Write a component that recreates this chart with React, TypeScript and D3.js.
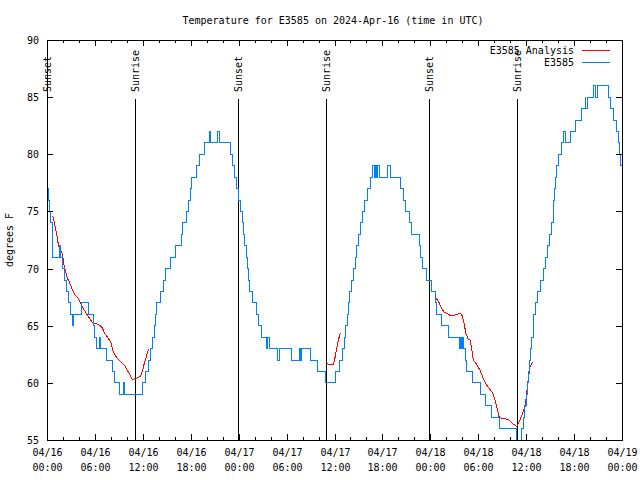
import React from "react";
import * as d3 from "d3";

// ---- Data (hours since 2024-04-16 00:00 UTC, temperature in °F) ----
const obsHours = [
  0.0, 0.16, 0.31, 0.5, 0.63, 0.69, 0.75, 1.54, 1.75, 1.97, 2.19, 2.38, 2.63, 2.88, 3.22, 3.32,
  4.35, 5.17, 5.8, 5.95, 6.14, 6.57, 6.7, 7.39, 8.23, 8.39, 9.14, 9.58, 9.7, 11.96, 12.33, 12.65,
  12.96, 13.21, 13.4, 13.56, 13.74, 14.24, 14.56, 14.81, 15.49, 16.03, 16.78, 16.99, 17.49, 17.69,
  17.91, 18.12, 18.75, 19.07, 19.66, 20.32, 20.53, 21.32, 21.54, 22.95, 23.25, 23.54, 23.73, 23.92,
  24.25, 24.42, 24.63, 24.79, 24.98, 25.08, 25.23, 25.33, 25.76, 26.26, 26.46, 26.8, 27.51, 27.67,
  27.8, 28.84, 29.09, 30.64, 31.56, 31.74, 31.93, 32.99, 33.82, 34.93, 36.07, 36.63, 37.01, 37.26,
  37.38, 37.57, 37.76, 37.94, 38.15, 38.36, 38.57, 38.78, 38.98, 39.26, 39.51, 39.76, 40.07, 40.45,
  40.79, 40.95, 41.08, 41.24, 41.33, 41.61, 42.61, 42.95, 44.29, 44.7, 44.95, 45.37, 45.64, 46.62,
  46.79, 47.04, 47.55, 48.17, 48.59, 48.8, 49.43, 50.25, 51.63, 51.76, 51.88, 52.01, 52.14, 52.41,
  52.56, 53.31, 54.31, 54.85, 55.6, 56.64, 58.79, 59.42, 59.64, 59.85, 60.04, 60.14, 60.27, 60.42,
  60.54, 60.69, 60.86, 60.98, 61.17, 61.48, 61.8, 62.15, 62.42, 62.67, 62.92, 63.17, 63.36, 63.46,
  63.57, 63.71, 63.86, 64.02, 64.43, 64.65, 64.92, 65.58, 66.12, 66.95, 67.37, 67.49, 67.66, 68.37,
  68.74, 68.99, 70.28, 70.62, 70.93, 71.25, 71.54, 71.66, 71.84, 72.0,
];
const obsTemps = [
  77, 76, 75, 74, 73, 72, 71, 72, 71, 70, 69, 68, 67, 66, 65, 66,
  67, 66, 65, 64, 63, 64, 63, 62, 61, 60, 59, 60, 59, 60, 61, 62,
  63, 64, 65, 66, 67, 68, 69, 70, 71, 72, 73, 74, 75, 76,
  77, 78, 79, 80, 81, 82, 81, 82, 81, 80, 79, 78, 77, 76,
  75, 74, 73, 72, 71, 70, 69, 68, 67, 66, 65, 64, 63, 64,
  63, 62, 63, 62, 63, 62, 63, 62, 61, 60, 61, 62, 63, 64,
  65, 66, 67, 68, 69, 70, 71, 72, 73, 74, 75, 76, 77, 78,
  79, 78, 79, 78, 79, 78, 79, 78, 77, 76, 75, 74, 73, 72,
  71, 70, 69, 68, 67, 66, 65, 64, 63, 64, 63, 64, 63, 62,
  61, 60, 59, 58, 57, 56, 55, 56, 57, 58, 59, 60, 61, 62,
  63, 64, 65, 66, 67, 68, 69, 70, 71, 72, 73, 74, 75, 76,
  77, 78, 79, 80, 81, 82, 81, 82, 83, 84, 85, 84, 85, 86,
  85, 86, 85, 84, 83, 82, 81, 80, 79, 79,
];

// Analysis series; null marks a gap between runs
const anaHours: (number | null)[] = [
  0.59, 0.79, 0.91, 1.09, 1.29, 1.42, 1.63, 1.84, 1.97, 2.13, 2.34, 2.54, 2.75, 2.97, 3.22, 3.51,
  3.92, 4.13, 4.55, 5.17, 5.6, 6.01, 6.42, 6.85, 7.26, 7.68, 8.01, 8.3, 8.73, 9.14, 9.77, 10.06,
  10.39, 10.68, 11.23, 11.73, 11.98, 12.18, 12.48, 12.68, 12.81,
  null,
  34.9, 35.22, 35.52, 35.85, 36.06, 36.28, 36.48, 36.69, 36.88,
  null,
  48.59, 48.87, 49.12, 49.42, 49.71, 50.05, 50.46, 50.88, 51.3, 51.72, 51.93, 52.22, 52.47, 52.76,
  52.97, 53.18, 53.38, 53.81, 54.22, 54.63, 55.06, 55.48, 55.81, 56.1, 56.31, 56.6, 56.94, 57.77,
  58.07, 58.39, 58.81, 59.23, 59.64, 59.85, 60.07, 60.27, 60.48, 60.77,
];
const anaTemps: (number | null)[] = [
  74.6, 74.5, 74.0, 73.4, 72.7, 72.1, 71.6, 71.5, 71.1, 70.3, 69.7, 69.15, 68.9, 68.5, 68.1, 67.7,
  67.4, 67.1, 66.5, 65.8, 65.35, 65.2, 65.1, 64.9, 64.3, 63.9, 63.5, 62.7, 62.2, 61.9, 61.5, 61.1,
  60.7, 60.3, 60.4, 60.6, 61.1, 61.7, 62.4, 62.9, 62.9,
  null,
  61.8, 61.65, 61.6, 61.6, 62.2, 63.0, 63.75, 64.3, 64.4,
  null,
  67.4, 67.3, 67.0, 66.5, 66.2, 66.1, 65.9, 65.85, 66.0, 66.05, 66.0, 65.2, 64.3, 63.8,
  63.75, 63.0, 62.0, 61.6, 61.1, 60.4, 59.8, 59.4, 59.1, 58.5, 57.9, 57.05, 56.9, 56.8,
  56.6, 56.4, 56.2, 56.75, 57.5, 57.9, 59.1, 60.4, 61.4, 61.8,
];

const sunHours = [0.0, 10.96, 23.95, 34.97, 47.87, 58.89];
const sunLabels = ["Sunset", "Sunrise", "Sunset", "Sunrise", "Sunset", "Sunrise"];

const xTickHours = [0, 6, 12, 18, 24, 30, 36, 42, 48, 54, 60, 66, 72];
const xTickDates = ["04/16", "04/16", "04/16", "04/16", "04/17", "04/17", "04/17", "04/17", "04/18", "04/18", "04/18", "04/18", "04/19"];
const xTickTimes = ["00:00", "06:00", "12:00", "18:00", "00:00", "06:00", "12:00", "18:00", "00:00", "06:00", "12:00", "18:00", "00:00"];
const yTicks = [55, 60, 65, 70, 75, 80, 85, 90];

const titleText = "Temperature for E3585 on 2024-Apr-16 (time in UTC)";
const yLabel = "degrees F";
const seriesNames = ["E3585 Analysis", "E3585"];

export default function App() {
  const W = 640, H = 480;
  const L = 47, R = 622, T = 40, B = 440;
  const x = d3.scaleLinear().domain([0, 72]).range([L, R]);
  const y = d3.scaleLinear().domain([55, 90]).range([B, T]);
  const font = "'DejaVu Sans Mono', monospace";
  const fs = 10;

  const obs = obsHours.map((h, i) => [h, obsTemps[i]] as [number, number]);
  const obsLine = d3
    .line<[number, number]>()
    .x((d) => x(d[0]))
    .y((d) => y(d[1]))
    .curve(d3.curveStepAfter)(obs);

  const ana = anaHours.map((h, i) => [h, anaTemps[i]] as [number | null, number | null]);
  const anaLine = d3
    .line<[number | null, number | null]>()
    .defined((d) => d[0] !== null && d[1] !== null)
    .x((d) => x(d[0] as number))
    .y((d) => y(d[1] as number))(ana);

  const minorX = d3.range(0, 73, 2).filter((h) => h % 6 !== 0);

  return (
    <svg
      width={W}
      height={H}
      style={{ position: "absolute", left: 0, top: 0, background: "#fff" }}
      fontFamily={font}
      fontSize={fs}
    >
      <rect x={0} y={0} width={W} height={H} fill="#fff" />
      <defs>
        <clipPath id="plotClip">
          <rect x={L} y={T} width={R - L + 1} height={B - T + 1} />
        </clipPath>
      </defs>

      {/* title */}
      <text x={333} y={24} textAnchor="middle" fill="#000">
        {titleText}
      </text>

      {/* y label */}
      <text transform={`translate(13,240) rotate(-90)`} textAnchor="middle" fill="#000">
        {yLabel}
      </text>

      {/* sunrise / sunset markers */}
      {sunHours.map((h, i) => {
        const sx = Math.round(x(h)) + 0.5;
        return (
          <g key={"sun" + i}>
            <line x1={sx} x2={sx} y1={T + 59} y2={B} stroke="#000" strokeWidth={1} shapeRendering="crispEdges" />
            <text transform={`translate(${sx + 3.5},${T + 52}) rotate(-90)`} textAnchor="start" fill="#000">
              {sunLabels[i]}
            </text>
          </g>
        );
      })}

      {/* data */}
      <g clipPath="url(#plotClip)">
        <path d={anaLine || ""} fill="none" stroke="#ff0000" strokeWidth={1} shapeRendering="crispEdges" />
        <path d={obsLine || ""} fill="none" stroke="#0080ff" strokeWidth={1} shapeRendering="crispEdges" />
      </g>

      {/* frame */}
      <rect x={L + 0.5} y={T + 0.5} width={R - L} height={B - T} fill="none" stroke="#000" strokeWidth={1} shapeRendering="crispEdges" />

      {/* x ticks */}
      {xTickHours.map((h, i) => {
        const tx = Math.round(x(h)) + 0.5;
        return (
          <g key={"xt" + i}>
            <line x1={tx} x2={tx} y1={B} y2={B - 6} stroke="#000" shapeRendering="crispEdges" />
            <line x1={tx} x2={tx} y1={T} y2={T + 6} stroke="#000" shapeRendering="crispEdges" />
            <text x={tx} y={B + 16} textAnchor="middle" fill="#000">
              {xTickDates[i]}
            </text>
            <text x={tx} y={B + 31} textAnchor="middle" fill="#000">
              {xTickTimes[i]}
            </text>
          </g>
        );
      })}
      {minorX.map((h) => {
        const tx = Math.round(x(h)) + 0.5;
        return (
          <g key={"mx" + h}>
            <line x1={tx} x2={tx} y1={B} y2={B - 3} stroke="#000" shapeRendering="crispEdges" />
            <line x1={tx} x2={tx} y1={T} y2={T + 3} stroke="#000" shapeRendering="crispEdges" />
          </g>
        );
      })}

      {/* y ticks */}
      {yTicks.map((v) => {
        const ty = Math.round(y(v)) + 0.5;
        return (
          <g key={"yt" + v}>
            <line x1={L} x2={L + 6} y1={ty} y2={ty} stroke="#000" shapeRendering="crispEdges" />
            <line x1={R} x2={R - 6} y1={ty} y2={ty} stroke="#000" shapeRendering="crispEdges" />
            <text x={39} y={ty + 3.5} textAnchor="end" fill="#000">
              {v}
            </text>
          </g>
        );
      })}

      {/* legend */}
      <text x={574} y={53.5} textAnchor="end" fill="#000">
        {seriesNames[0]}
      </text>
      <line x1={582} x2={610} y1={50.5} y2={50.5} stroke="#ff0000" shapeRendering="crispEdges" />
      <text x={574} y={66} textAnchor="end" fill="#000">
        {seriesNames[1]}
      </text>
      <line x1={582} x2={610} y1={62.5} y2={62.5} stroke="#0080ff" shapeRendering="crispEdges" />
    </svg>
  );
}
